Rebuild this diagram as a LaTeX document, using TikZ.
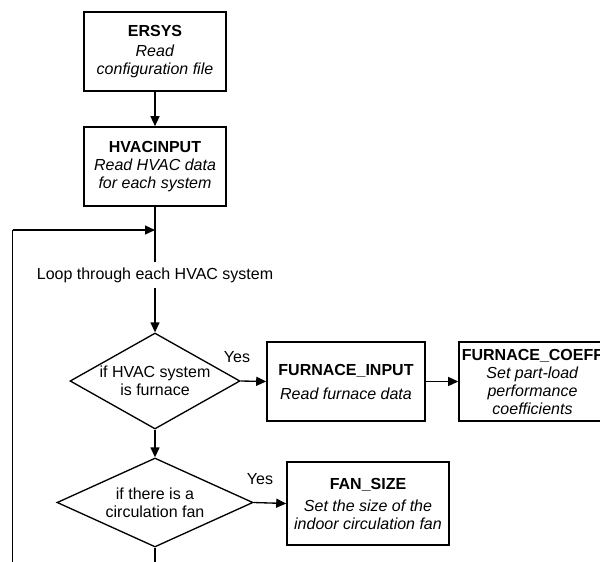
\documentclass[tikz,border=0pt]{standalone}
\usepackage{fontspec}
\setmainfont{Liberation Sans}
\usetikzlibrary{shapes.geometric,arrows.meta}

\begin{document}
\begin{tikzpicture}[x=0.75pt,y=-0.75pt,
  every node/.style={font=\fontsize{12}{13.5}\selectfont},
  procbox/.style={draw,line width=1.2pt,inner sep=0pt,align=center},
  decision/.style={draw,diamond,line width=1pt,inner sep=0pt},
  plain/.style={inner sep=0pt,align=center},
  flow/.style={line width=1pt,-{Triangle[length=7.5pt,width=6.75pt]}},
  link/.style={line width=1pt}]
\useasboundingbox (0,0) rectangle (600,561);
\clip (0,0) rectangle (600,561);

% process boxes
\node[procbox,minimum width=106.5pt,minimum height=59.25pt] (ersys) at (155,51.5)
  {\textbf{ERSYS}\\[1.5pt]\textit{Read}\\\textit{configuration file}};
\node[procbox,minimum width=106.5pt,minimum height=59.25pt] (hvac) at (155,166.5)
  {\textbf{HVACINPUT}\\\textit{Read HVAC data}\\\textit{for each system}};
\node[procbox,minimum width=118.5pt,minimum height=59.25pt] (furn) at (346,381.5)
  {\textbf{FURNACE\_INPUT}\\[4.5pt]\textit{Read furnace data}};
\node[procbox,minimum width=110.25pt,minimum height=59.25pt] (coeff) at (532.5,381.5)
  {\textbf{FURNACE\_COEFF}\\\textit{Set part-load}\\\textit{performance}\\\textit{coefficients}};
\node[procbox,minimum width=121.5pt,minimum height=62.25pt] (fan) at (368,503.5)
  {\textbf{FAN\_SIZE}\\[3pt]\textit{Set the size of the}\\\textit{indoor circulation fan}};

% loop label
\node[inner xsep=0pt,inner ysep=4pt] (loop) at (155,275) {Loop through each HVAC system};

% decisions
\node[decision,minimum width=127.5pt,minimum height=72pt] (d1) at (155,381) {};
\node[plain] (d1t) at (d1) {if HVAC system\\is furnace};
\node[decision,minimum width=147pt,minimum height=66.75pt] (d2) at (155,502.5) {};
\node[plain] (d2t) at (d2) {if there is a\\circulation fan};

\node[plain] (y1) at (237,357) {Yes};
\node[plain] (y2) at (260,479) {Yes};

% loop-back and exit points
\coordinate (loopin) at (155,230);
\coordinate (ret) at (12.7,230);
\coordinate (retbot) at (12.7,566);
\coordinate (exit) at (155,566);

% connectors
\draw[flow] (ersys) -- (hvac);
\draw[link] (hvac.south) -- (loop.north);
\draw[flow] (ret) -- (loopin);
\draw[link] (retbot) -- (ret);
\draw[flow] (loop.south) -- (d1.north);
\draw[flow] (d1.east) -- (furn.west);
\draw[flow] (furn.east) -- (coeff.west);
\draw[flow] (d1.south) -- (d2.north);
\draw[flow] (d2.east) -- (fan.west);
\draw[link] (d2.south) -- (exit);
\end{tikzpicture}
\end{document}
